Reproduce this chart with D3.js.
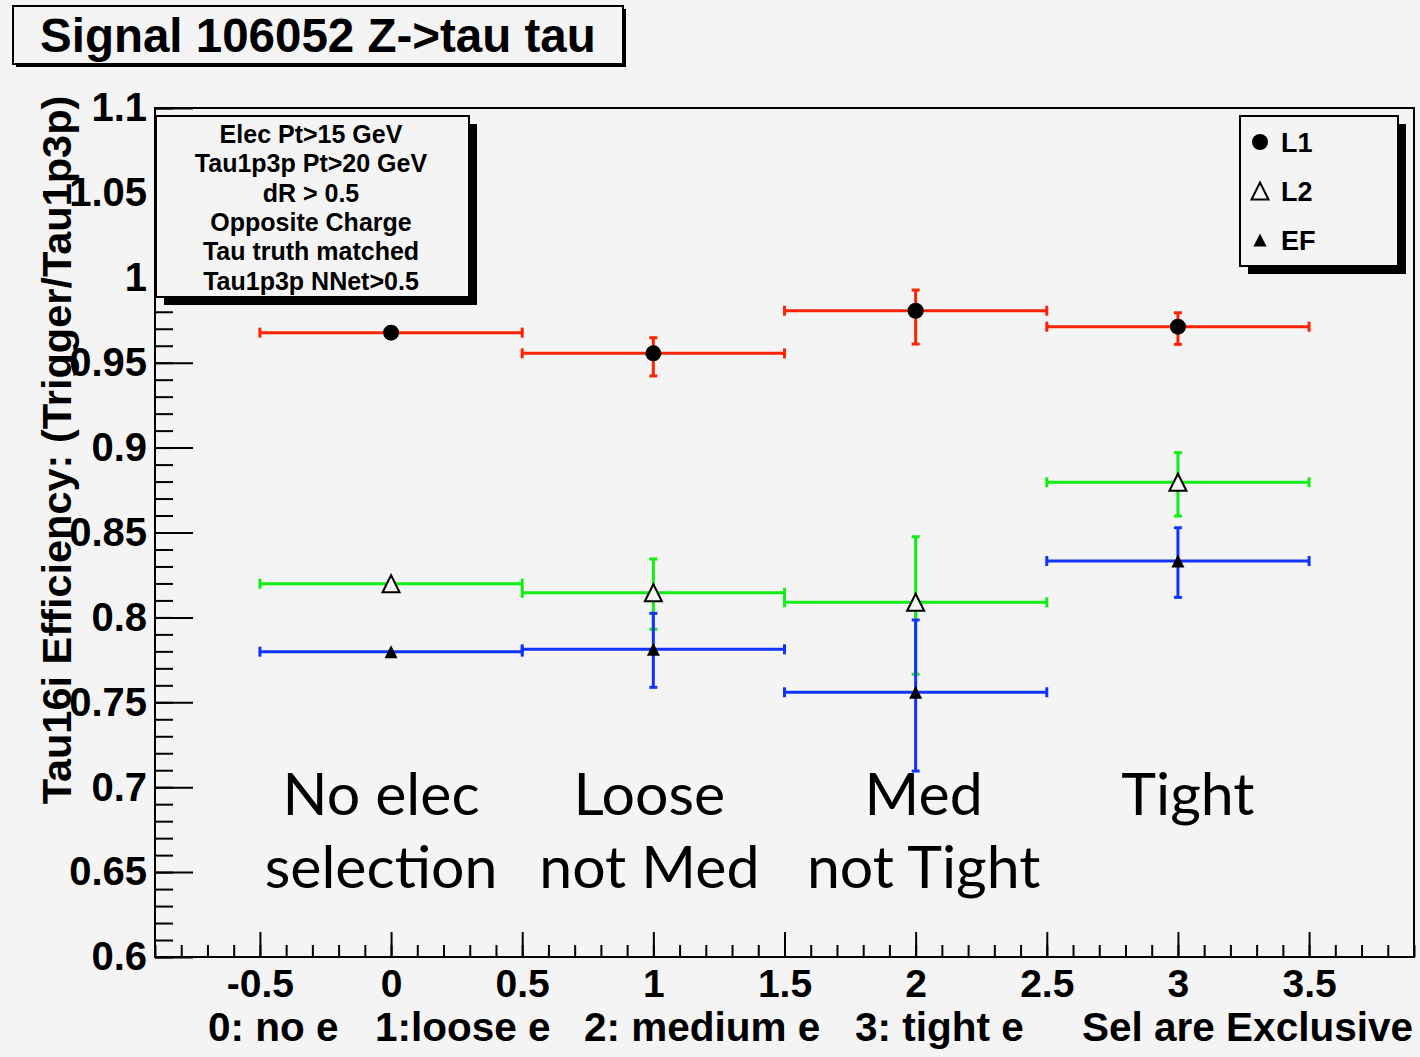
<!DOCTYPE html>
<html>
<head>
<meta charset="utf-8">
<script src="https://cdn.jsdelivr.net/npm/d3@7"></script>
<style>
  html, body { margin: 0; padding: 0; background: #f4f4f4; }
  svg { display: block; }
  .bold { font-family: "Liberation Sans", Arial, sans-serif; font-weight: bold; fill: #000; }
  .note { font-family: Lato, "Open Sans", sans-serif; fill: #000; }
</style>
</head>
<body>
<div id="chart"></div>
<script>
// ---- data ----
const bins = [0, 1, 2, 3];
const binHalfWidth = [0.5, 0.5, 0.5, 0.5];

const l1Values = [0.9677, 0.9555, 0.9806, 0.9712];
const l1ErrHi  = [0.002, 0.0092, 0.0122, 0.0082];
const l1ErrLo  = [0.002, 0.0133, 0.0196, 0.0104];

const l2Values = [0.8198, 0.8145, 0.8089, 0.8796];
const l2ErrHi  = [0.002, 0.0199, 0.0386, 0.0174];
const l2ErrLo  = [0.002, 0.0215, 0.0424, 0.0199];

const efValues = [0.7798, 0.7812, 0.7559, 0.8332];
const efErrHi  = [0.002, 0.0212, 0.0426, 0.0196];
const efErrLo  = [0.002, 0.0224, 0.0464, 0.0214];

const xTickValues = [-0.5, 0, 0.5, 1, 1.5, 2, 2.5, 3, 3.5];
const yTickValues = [0.6, 0.65, 0.7, 0.75, 0.8, 0.85, 0.9, 0.95, 1, 1.05, 1.1];

const title = "Signal 106052 Z->tau tau";
const yTitle = "Tau16i Efficiency: (Trigger/Tau1p3p)";
const xTitleParts = ["0: no e", "1:loose e", "2: medium e", "3: tight e", "Sel are Exclusive"];
const cutLines = ["Elec Pt>15 GeV", "Tau1p3p Pt>20 GeV", "dR > 0.5", "Opposite Charge", "Tau truth matched", "Tau1p3p NNet>0.5"];
const binNotes = [["No elec", "selection"], ["Loose", "not Med"], ["Med", "not Tight"], ["Tight", ""]];
const legendNames = ["L1", "L2", "EF"];

// ---- layout ----
const width = 1420, height = 1057;
const frame = { left: 155, right: 1414, top: 108, bottom: 957 };
const bg = "#f4f4f4";

const x = d3.scaleLinear().domain([-0.9, 3.9]).range([frame.left, frame.right]);
const y = d3.scaleLinear().domain([0.6, 1.1]).range([frame.bottom, frame.top]);

const fmt = d => String(+d.toFixed(2));

const svg = d3.select("#chart").append("svg")
  .attr("width", width)
  .attr("height", height);

svg.append("rect").attr("width", width).attr("height", height).attr("fill", bg);

// boxes with ROOT style shadow
function shadowBox(x0, y0, w, h, off) {
  svg.append("rect")
    .attr("x", x0 + off).attr("y", y0 + off)
    .attr("width", w).attr("height", h)
    .attr("fill", "#000");
  svg.append("rect")
    .attr("x", x0).attr("y", y0)
    .attr("width", w).attr("height", h)
    .attr("fill", bg)
    .attr("stroke", "#000")
    .attr("stroke-width", 2);
}

// =====================
// TITLE
// =====================
shadowBox(13, 6, 610, 58, 3);
svg.append("text")
  .attr("class", "bold")
  .attr("x", 40).attr("y", 52)
  .attr("font-size", 47.5)
  .text(title);

// =====================
// FRAME + AXES
// =====================
svg.append("rect")
  .attr("x", frame.left).attr("y", frame.top)
  .attr("width", frame.right - frame.left)
  .attr("height", frame.bottom - frame.top)
  .attr("fill", bg)
  .attr("stroke", "#000")
  .attr("stroke-width", 2);

const xMinor = svg.append("g")
  .attr("transform", `translate(0,${frame.bottom})`)
  .call(d3.axisBottom(x).tickValues(d3.range(-9, 40).map(i => i / 10)).tickSize(-12).tickSizeOuter(0).tickFormat(""));

const xMajor = svg.append("g")
  .attr("transform", `translate(0,${frame.bottom})`)
  .call(d3.axisBottom(x).tickValues(xTickValues).tickSize(-25).tickSizeOuter(0).tickPadding(12).tickFormat(fmt));

const yMinor = svg.append("g")
  .attr("transform", `translate(${frame.left},0)`)
  .call(d3.axisLeft(y).tickValues(d3.range(60, 111).map(i => i / 100)).tickSize(-18).tickSizeOuter(0).tickFormat(""));

const yMajor = svg.append("g")
  .attr("transform", `translate(${frame.left},0)`)
  .call(d3.axisLeft(y).tickValues(yTickValues).tickSize(-38).tickSizeOuter(0).tickPadding(8).tickFormat(fmt));

[xMinor, xMajor, yMinor, yMajor].forEach(a => {
  a.select(".domain").remove();
  a.selectAll(".tick line").attr("stroke", "#000").attr("stroke-width", 2);
});
xMajor.selectAll(".tick text")
  .attr("class", "bold")
  .attr("font-size", 39)
  .attr("font-family", null);
yMajor.selectAll(".tick text")
  .attr("class", "bold")
  .attr("font-size", 40)
  .attr("font-family", null);

// axis titles
const xTitleStarts = [208, 375, 584, 855, 1082];
svg.append("g").selectAll("text")
  .data(xTitleParts)
  .join("text")
  .attr("class", "bold")
  .attr("x", (d, i) => xTitleStarts[i])
  .attr("y", 1041)
  .attr("font-size", 40.5)
  .text(d => d);

svg.append("text")
  .attr("class", "bold")
  .attr("transform", "translate(71,450) rotate(-90)")
  .attr("text-anchor", "middle")
  .attr("font-size", 41.5)
  .text(yTitle);

// =====================
// SERIES
// =====================
const series = [
  { name: "L1", color: "#ff2200", values: l1Values, hi: l1ErrHi, lo: l1ErrLo, marker: "circle" },
  { name: "L2", color: "#11ee11", values: l2Values, hi: l2ErrHi, lo: l2ErrLo, marker: "openTriangle" },
  { name: "EF", color: "#1133ff", values: efValues, hi: efErrHi, lo: efErrLo, marker: "triangle" }
];

function drawMarker(g, type, cx, cy) {
  if (type === "circle") {
    g.append("circle").attr("cx", cx).attr("cy", cy).attr("r", 8).attr("fill", "#000");
  } else if (type === "openTriangle") {
    const s = 8.5;
    g.append("path")
      .attr("d", `M${cx},${cy - s}L${cx + s},${cy + s}L${cx - s},${cy + s}Z`)
      .attr("fill", bg).attr("stroke", "#000").attr("stroke-width", 2);
  } else {
    const s = 6.5;
    g.append("path")
      .attr("d", `M${cx},${cy - s}L${cx + s},${cy + s}L${cx - s},${cy + s}Z`)
      .attr("fill", "#000");
  }
}

const cap = 4;
const dataLayer = svg.append("g");

series.forEach(s => {
  const g = dataLayer.append("g").attr("stroke", s.color).attr("stroke-width", 3);
  bins.forEach((b, i) => {
    const cx = x(b), cy = y(s.values[i]);
    const x0 = x(b - binHalfWidth[i]), x1 = x(b + binHalfWidth[i]);
    g.append("line").attr("x1", x0).attr("x2", x1).attr("y1", cy).attr("y2", cy);
    g.append("line").attr("x1", x0).attr("x2", x0).attr("y1", cy - cap - 1).attr("y2", cy + cap + 1);
    g.append("line").attr("x1", x1).attr("x2", x1).attr("y1", cy - cap - 1).attr("y2", cy + cap + 1);
    const yHi = y(s.values[i] + s.hi[i]), yLo = y(s.values[i] - s.lo[i]);
    if (cy - yHi > 8) {
      g.append("line").attr("x1", cx).attr("x2", cx).attr("y1", yHi).attr("y2", cy);
      g.append("line").attr("x1", cx - cap).attr("x2", cx + cap).attr("y1", yHi).attr("y2", yHi);
    }
    if (yLo - cy > 8) {
      g.append("line").attr("x1", cx).attr("x2", cx).attr("y1", cy).attr("y2", yLo);
      g.append("line").attr("x1", cx - cap).attr("x2", cx + cap).attr("y1", yLo).attr("y2", yLo);
    }
  });
});

series.forEach(s => {
  const g = dataLayer.append("g");
  bins.forEach((b, i) => drawMarker(g, s.marker, x(b), y(s.values[i])));
});

// =====================
// CUTS BOX
// =====================
shadowBox(156, 116, 313, 181, 8);
svg.append("g").selectAll("text")
  .data(cutLines)
  .join("text")
  .attr("class", "bold")
  .attr("x", 311)
  .attr("y", (d, i) => 143 + i * 29.3)
  .attr("text-anchor", "middle")
  .attr("font-size", 25)
  .text(d => d);

// =====================
// LEGEND
// =====================
shadowBox(1240, 116, 158, 150, 8);
series.forEach((s, i) => {
  const ly = 142 + i * 49;
  drawMarker(svg, s.marker, 1260, ly);
  svg.append("text")
    .attr("class", "bold")
    .attr("x", 1281).attr("y", ly + 10)
    .attr("font-size", 27)
    .text(legendNames[i]);
});

// =====================
// BIN NOTES
// =====================
const noteShift = [-10, -4, 8, 10];
bins.forEach((b, i) => {
  binNotes[i].forEach((line, j) => {
    svg.append("text")
      .attr("class", "note")
      .attr("x", x(b) + noteShift[i])
      .attr("y", 815 + j * 73)
      .attr("text-anchor", "middle")
      .attr("font-size", 59)
      .text(line);
  });
});
</script>
</body>
</html>
